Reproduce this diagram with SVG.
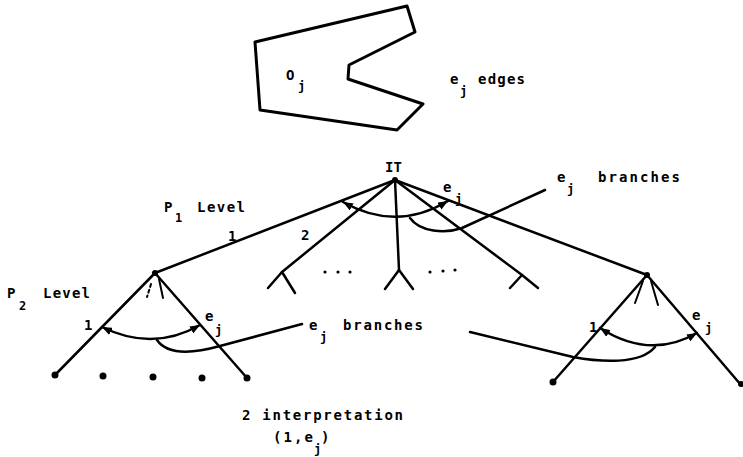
<svg xmlns="http://www.w3.org/2000/svg" width="743" height="457" viewBox="0 0 743 457">
<style>
  .ln { stroke:#000; stroke-width:2.5; fill:none; stroke-linecap:round; stroke-linejoin:round; }
  .thin { stroke:#000; stroke-width:2; fill:none; stroke-linecap:round; }
  .t { font-family:"DejaVu Sans Mono", "Liberation Mono", monospace; font-weight:bold; font-size:14px; fill:#000; }
  .s { font-family:"DejaVu Sans Mono", "Liberation Mono", monospace; font-weight:bold; font-size:12px; fill:#000; }
  .dot { fill:#000; }
</style>
<defs>
  <marker id="ah" viewBox="0 0 10 8" refX="10" refY="4" markerWidth="10" markerHeight="8" markerUnits="userSpaceOnUse" orient="auto-start-reverse">
    <path d="M0,0 L10,4 L0,8 Z" fill="#000"/>
  </marker>
</defs>
<rect width="743" height="457" fill="#fff"/>

<g id="object">
  <polygon class="ln" style="stroke-width:3" points="255,42 407,6 415,32 349,65 348,79 423,104 397,130 260,110"/>
  <text class="t" x="286" y="80">O</text><text class="s" x="298" y="90">j</text>
  <text class="t" x="450" y="84">e</text><text class="s" x="460" y="95">j</text>
  <text class="t" x="478" y="84" textLength="47">edges</text>
</g>

<g id="connectors">
  <line class="ln" x1="395" y1="180" x2="155" y2="273"/>
  <line class="ln" x1="395" y1="180" x2="282" y2="272"/>
  <line class="ln" x1="395" y1="180" x2="399" y2="270"/>
  <line class="ln" x1="395" y1="180" x2="522" y2="275"/>
  <line class="ln" x1="395" y1="180" x2="647" y2="275"/>
  <polyline class="ln" points="268,288 282,272 295,293"/>
  <polyline class="ln" points="385,289 399,270 413,289"/>
  <polyline class="ln" points="510,288 522,275 538,288"/>
  <circle class="dot" cx="325" cy="272" r="1.6"/><circle class="dot" cx="338" cy="272" r="1.6"/><circle class="dot" cx="350" cy="272" r="1.6"/>
  <circle class="dot" cx="430" cy="272" r="1.6"/><circle class="dot" cx="443" cy="271" r="1.6"/><circle class="dot" cx="455" cy="270" r="1.6"/>
  <path class="ln" d="M343,202 Q396,232 448,201" marker-start="url(#ah)" marker-end="url(#ah)"/>
  <path class="ln" d="M545,190 L462,228 C445,234 420,232 410,218"/>

  <line class="ln" x1="155" y1="273" x2="55" y2="375"/>
  <line class="ln" x1="155" y1="273" x2="247" y2="378"/>
  <line class="thin" x1="159" y1="279" x2="163" y2="298"/>
  <line class="thin" x1="151" y1="284" x2="147" y2="297" stroke-dasharray="3,3"/>
  <path class="ln" d="M102,327 Q153,352 200,325" marker-start="url(#ah)" marker-end="url(#ah)"/>
  <path class="ln" d="M302,324 L220,346 C195,353 168,356 157,340"/>

  <line class="ln" x1="647" y1="275" x2="553" y2="382"/>
  <line class="ln" x1="647" y1="275" x2="741" y2="385"/>
  <line class="thin" x1="643" y1="281" x2="635" y2="303"/>
  <line class="thin" x1="651" y1="281" x2="658" y2="305"/>
  <path class="ln" d="M600,328 Q650,360 697,333" marker-start="url(#ah)" marker-end="url(#ah)"/>
  <path class="ln" d="M470,332 L573,357 C600,362 640,365 655,347"/>
</g>

<g id="IT">
  <circle class="dot" cx="395" cy="180" r="3"/>
  <text class="t" x="385" y="172" textLength="17">IT</text>
  <text class="t" x="443" y="192">e</text><text class="s" x="455" y="203">j</text>
</g>

<g id="labels">
  <text class="t" x="164" y="212">P</text><text class="s" x="175" y="222">1</text>
  <text class="t" x="197" y="212" textLength="48">Level</text>
  <text class="t" x="228" y="241">1</text>
  <text class="t" x="301" y="240">2</text>
  <text class="t" x="557" y="182">e</text><text class="s" x="567" y="193">j</text>
  <text class="t" x="598" y="182" textLength="82">branches</text>
  <text class="t" x="7" y="298">P</text><text class="s" x="19" y="310">2</text>
  <text class="t" x="43" y="298" textLength="47">Level</text>
  <text class="t" x="309" y="330">e</text><text class="s" x="320" y="341">j</text>
  <text class="t" x="343" y="330" textLength="80">branches</text>
</g>

<g id="P1node">
  <circle class="dot" cx="155" cy="273" r="3"/>
  <text class="t" x="84" y="330">1</text>
  <text class="t" x="205" y="321">e</text><text class="s" x="215" y="334">j</text>
  <circle class="dot" cx="55" cy="375" r="3.5"/>
  <circle class="dot" cx="103" cy="376" r="3.5"/>
  <circle class="dot" cx="153" cy="377" r="3.5"/>
  <circle class="dot" cx="202" cy="378" r="3.5"/>
  <circle class="dot" cx="247" cy="378" r="3.5"/>
</g>

<g id="Pnnode">
  <circle class="dot" cx="647" cy="275" r="3"/>
  <text class="t" x="589" y="332">1</text>
  <text class="t" x="692" y="320">e</text><text class="s" x="705" y="332">j</text>
  <circle class="dot" cx="553" cy="382" r="3.5"/>
  <circle class="dot" cx="741" cy="384" r="3"/>
</g>

<g id="caption">
  <text class="t" x="242" y="420" textLength="161">2 interpretation</text>
  <text class="t" x="273" y="442" textLength="40">(1,e</text><text class="s" x="314" y="453">j</text><text class="t" x="321" y="442">)</text>
</g>
</svg>
